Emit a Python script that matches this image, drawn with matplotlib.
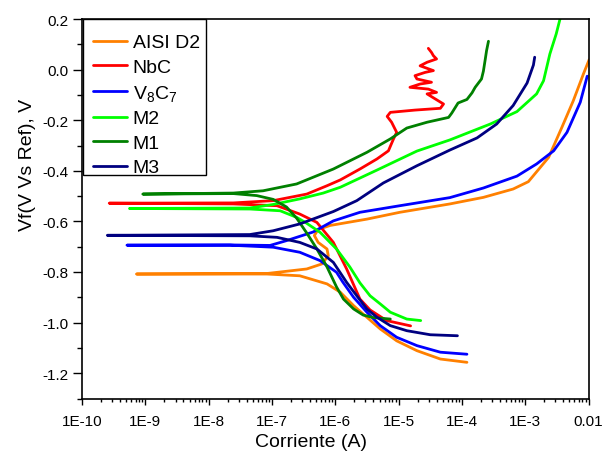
import numpy as np
import matplotlib
matplotlib.use("Agg")
import matplotlib.pyplot as plt
from matplotlib.patches import Rectangle
from matplotlib.ticker import MultipleLocator, LogLocator, NullFormatter, FormatStrFormatter

plt.rcParams['font.family'] = ['Liberation Sans', 'DejaVu Sans']
plt.rcParams['mathtext.fontset'] = 'custom'
plt.rcParams['mathtext.rm'] = 'Liberation Sans'
plt.rcParams['mathtext.it'] = 'Liberation Sans:italic'
plt.rcParams['axes.unicode_minus'] = False

# ---- data: log10 of current (A) and potential (V) along each scan ----
aisi_logI = [-3.92, -4.34, -4.71, -5.03, -5.29, -5.50, -5.71, -5.92, -6.13, -6.56, -7.08, -9.14,
             -7.08, -6.45, -6.21, -6.11, -6.13, -6.27, -6.33, -6.27, -6.08, -5.50, -4.98, -4.19,
             -3.66, -3.19, -2.95, -2.63, -2.42, -2.24, -2.08, -1.99]
aisi_E = [-1.157, -1.144, -1.111, -1.072, -1.025, -0.979, -0.933, -0.880, -0.847, -0.815, -0.808, -0.808,
          -0.806, -0.788, -0.768, -0.736, -0.709, -0.683, -0.656, -0.632, -0.616, -0.591, -0.564, -0.531,
          -0.505, -0.472, -0.443, -0.347, -0.228, -0.123, -0.017, 0.039]

nbc_logI = [-4.81, -5.19, -5.45, -5.61, -5.82, -6.03, -6.29, -6.56, -6.92, -7.61, -9.57,
            -7.61, -6.98, -6.45, -6.13, -5.92, -5.61, -5.34, -5.16, -5.08, -5.03, -5.11, -5.18, -5.13,
            -4.74, -4.34, -4.29, -4.42, -4.55, -4.40, -4.53, -4.82, -4.66, -4.48, -4.71, -4.74, -4.58,
            -4.45, -4.66, -4.55, -4.40, -4.45, -4.48, -4.53]
nbc_E = [-1.013, -0.992, -0.950, -0.907, -0.788, -0.683, -0.604, -0.571, -0.538, -0.531, -0.528,
         -0.527, -0.518, -0.492, -0.459, -0.436, -0.393, -0.353, -0.321, -0.274, -0.248, -0.208, -0.185, -0.169,
         -0.160, -0.153, -0.136, -0.116, -0.096, -0.090, -0.077, -0.070, -0.057, -0.050, -0.037, -0.024, -0.011,
         -0.004, 0.015, 0.029, 0.042, 0.055, 0.068, 0.084]

v8c7_logI = [-3.92, -4.34, -4.71, -5.03, -5.29, -5.50, -5.71, -5.88, -5.98, -6.24, -6.56, -6.98, -7.66, -9.29,
             -7.66, -7.03, -6.77, -6.35, -6.03, -5.61, -4.98, -4.19, -3.66, -3.13, -2.82, -2.55, -2.34,
             -2.13, -2.02]
v8c7_E = [-1.125, -1.117, -1.091, -1.058, -1.012, -0.959, -0.900, -0.840, -0.801, -0.755, -0.722, -0.702, -0.694, -0.694,
          -0.693, -0.695, -0.676, -0.642, -0.598, -0.564, -0.538, -0.506, -0.468, -0.421, -0.373, -0.321, -0.248,
          -0.129, -0.026]

m2_logI = [-4.65, -4.87, -5.13, -5.29, -5.45, -5.61, -5.77, -5.98, -6.24, -6.46, -6.61, -6.87, -7.35, -9.25,
           -7.35, -6.98, -6.56, -6.19, -5.92, -5.34, -4.71, -4.19, -3.55, -3.13, -2.82, -2.71, -2.61, -2.51, -2.45]
m2_E = [-0.992, -0.986, -0.959, -0.926, -0.894, -0.843, -0.780, -0.709, -0.643, -0.606, -0.584, -0.558, -0.551, -0.549,
        -0.547, -0.533, -0.511, -0.488, -0.465, -0.397, -0.322, -0.278, -0.215, -0.166, -0.096, -0.044, 0.062, 0.141, 0.200]

m1_logI = [-5.13, -5.40, -5.56, -5.71, -5.87, -5.98, -6.13, -6.29, -6.45, -6.61, -6.77, -6.98, -7.24, -7.61, -9.04,
           -7.61, -7.14, -6.61, -6.03, -5.50, -5.13, -4.87, -4.55, -4.21, -4.16, -4.06, -3.92, -3.84, -3.79,
           -3.69, -3.66, -3.63, -3.61, -3.58]
m1_E = [-0.986, -0.980, -0.970, -0.946, -0.907, -0.859, -0.780, -0.709, -0.646, -0.587, -0.543, -0.513, -0.498, -0.490, -0.492,
        -0.488, -0.479, -0.452, -0.393, -0.327, -0.274, -0.231, -0.208, -0.189, -0.172, -0.132, -0.118, -0.092, -0.070,
        -0.037, -0.006, 0.042, 0.075, 0.112]

m3_logI = [-4.07, -4.50, -4.87, -5.13, -5.34, -5.50, -5.66, -5.82, -6.03, -6.29, -6.56, -6.92, -7.35, -9.60,
           -7.35, -6.98, -6.56, -6.03, -5.66, -5.24, -4.71, -4.19, -3.76, -3.45, -3.19, -2.97, -2.87, -2.85]
m3_E = [-1.052, -1.048, -1.032, -1.012, -0.979, -0.946, -0.894, -0.841, -0.762, -0.709, -0.683, -0.663, -0.657, -0.655,
        -0.652, -0.637, -0.610, -0.561, -0.518, -0.448, -0.380, -0.318, -0.270, -0.215, -0.142, -0.053, 0.018, 0.049]

series_labels = ['AISI D2', 'NbC', r'V$_8$C$_7$', 'M2', 'M1', 'M3']
series_colors = ['#FF8000', '#FF0000', '#0000FF', '#00FF00', '#008000', '#000080']
series_logI = [aisi_logI, nbc_logI, v8c7_logI, m2_logI, m1_logI, m3_logI]
series_E = [aisi_E, nbc_E, v8c7_E, m2_E, m1_E, m3_E]

x_ticks = [1e-10, 1e-9, 1e-8, 1e-7, 1e-6, 1e-5, 1e-4, 1e-3, 1e-2]
x_ticklabels = ['1E-10', '1E-9', '1E-8', '1E-7', '1E-6', '1E-5', '1E-4', '1E-3', '0.01']
y_ticks = [-1.2, -1.0, -0.8, -0.6, -0.4, -0.2, 0.0, 0.2]

W, H = 607, 452
fig = plt.figure(figsize=(W / 100, H / 100), dpi=100)
ax = fig.add_axes([82 / W, 1 - 399.5 / H, 506.5 / W, 379.5 / H])

for lg, e, lab, col in zip(series_logI, series_E, series_labels, series_colors):
    ax.plot(10 ** np.array(lg), e, color=col, lw=2.0, label=lab,
            solid_capstyle='round', solid_joinstyle='round', zorder=2)

ax.set_xscale('log')
ax.set_xlim(1e-10, 1e-2)
ax.set_ylim(-1.3, 0.2)
ax.set_xticks(x_ticks)
ax.set_xticklabels(x_ticklabels)
ax.xaxis.set_minor_locator(LogLocator(base=10, subs=np.arange(2, 10)))
ax.xaxis.set_minor_formatter(NullFormatter())
ax.set_yticks(y_ticks)
ax.yaxis.set_major_formatter(FormatStrFormatter('%.1f'))
ax.yaxis.set_minor_locator(MultipleLocator(0.1))

ax.tick_params(axis='both', which='both', direction='out', labelsize=11, color='black')
ax.tick_params(axis='y', which='major', length=6.5, width=1.0, pad=3)
ax.tick_params(axis='y', which='minor', length=3.5, width=1.0)
ax.tick_params(axis='x', which='major', length=4.3, width=1.0, pad=7)
ax.tick_params(axis='x', which='minor', length=2.4, width=1.0)
for s in ax.spines.values():
    s.set_linewidth(1.2)
    s.set_color('black')

# legend frame drawn as a separate box
frame = Rectangle((83.3 / W, 1 - 175.7 / H), 122.4 / W, 155.7 / H, transform=fig.transFigure,
                  facecolor='white', edgecolor='black', lw=1.0, zorder=4)
ax.add_patch(frame)
leg = ax.legend(loc='upper left', bbox_to_anchor=(-0.008, 1.0), borderaxespad=0, fontsize=14,
                frameon=False, handlelength=1.78, handletextpad=0.28, borderpad=0.76, labelspacing=0.355)
leg.set_zorder(5)

fig.text(27 / W, 1 - 165 / H, 'Vf(V Vs Ref), V', rotation=90, ha='center', va='center', fontsize=14)
fig.text(311 / W, 4.5 / H, 'Corriente (A)', ha='center', va='baseline', fontsize=14)

fig.savefig('out.png', dpi=100)
